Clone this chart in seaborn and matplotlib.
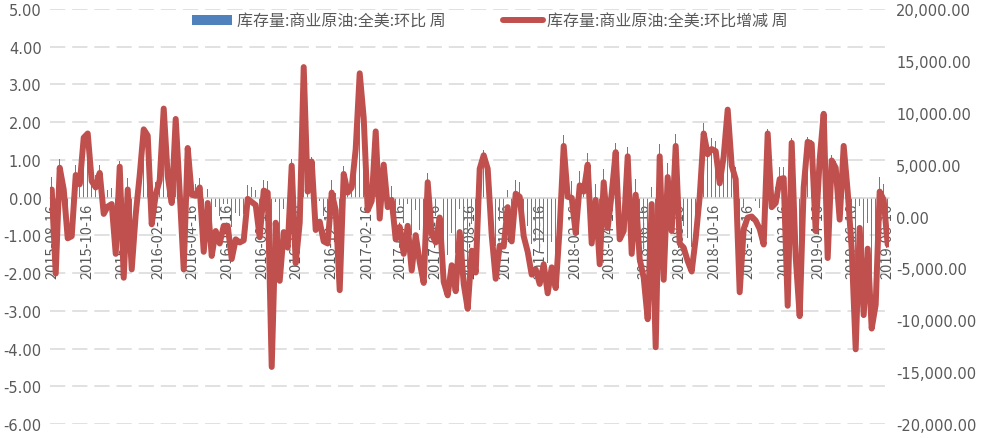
import numpy as np
import pandas as pd
import matplotlib
matplotlib.use("Agg")
import matplotlib.pyplot as plt
from matplotlib.patches import Patch
from matplotlib.lines import Line2D
import matplotlib.ticker as mticker
import seaborn as sns

# ---------------- data ----------------
start_date = "2015-08-14"   # first weekly observation

bar_label = "库存量:商业原油:全美:环比 周"
line_label = "库存量:商业原油:全美:环比增减 周"

# weekly change (thousand barrels) – right axis
weekly_change = [
    2600, -5500, 4700, 2600, -2100, -1900, 4000, 3100, 7600, 8000, 3400, 2800,
    4200, 250, 960, 1200, -3600, 4800, -5900, 2600, -5100, 200, 4000, 8400,
    7800, -750, 2100, 3500, 10400, 3900, 1300, 9400, 2300, -5100,
    6600, 2100, 2000, 2800, -3400, 1300, -3800, -1400, -2600, -900, -900, -4100,
    -2200, -2500, -2300, 1700, 1400, 1100, -2000, 2500, 2300, -14500,
    -600, -6200, -1500, -3000, 4900, -4500, -600, 14400, 2400, 5300, -1300, -500,
    -2400, -2600, 2300, 600, -7100, 4100, 2300, 2800, 6500, 13800,
    9500, 600, 1500, 8200, -200, 5000, 900, 1600, -2200, -1000, -3600, -900,
    -5200, -1800, -4400, -6400, 3300, -1700,
    -2500, -100, -6300, -7600, -4700, -7200, -1500, -6500, -8900, -3300, -5400,
    4600, 5900, 4600, -1800,
    -6000, -2800, -2900, 900, -2400, 2200, 1900, -1900, -3400, -5600, -5100,
    -6500, -4600, -7400,
    -4900, -6900, -1100, 6800, 1900, 1800, -1600, 3000, 2400, 5000,
    -2600, 1600, -4600, 3300, -1100, 2200, 6200, -2200, -1400, 5800,
    -3600, 2100, -4100, -5900, -9900, 1200, -12600, 5800, -6100, 3800,
    -1400, 6800, -2600, -3000, -4300, -5300, -2100, 1900,
    8000, 6000, 6500, 6300, 3200, 5800, 10300, 4900, 3600, -7300,
    -1200, -100, 0, -400, -1200, -2700, 8000, 900,
    1300, 3600, 3700, -8600, 7100, -3900, -9600, 2800, 7200, 7000,
    -1400, 5500, 9900, -4000, 5400, 4700, -300, 6800, 2400, -3100,
    -12800, -1100, -9500, -3100, -10800, -8500, 2400, 1600, -2700,
]

# weekly change (%) – left axis
weekly_pct = [
    0.56, -1.19, 1.02, 0.56, -0.46, -0.41, 0.87, 0.67, 1.65, 1.74, 0.74, 0.61,
    0.86, 0.05, 0.20, 0.25, -0.74, 0.98, -1.21, 0.53, -1.05, 0.04, 0.82, 1.72,
    1.52, -0.15, 0.41, 0.68, 2.03, 0.76, 0.25, 1.80, 0.44, -0.96,
    1.24, 0.39, 0.37, 0.52, -0.63, 0.24, -0.71, -0.26, -0.49, -0.17, -0.17, -0.77,
    -0.42, -0.48, -0.44, 0.33, 0.27, 0.21, -0.38, 0.48, 0.44, -2.75,
    -0.12, -1.22, -0.30, -0.60, 1.03, -0.95, -0.13, 3.02, 0.49, 1.08, -0.27, -0.10,
    -0.49, -0.54, 0.48, 0.12, -1.47, 0.85, 0.47, 0.57, 1.32, 2.72,
    1.83, 0.11, 0.29, 1.56, -0.04, 0.94, 0.17, 0.30, -0.41, -0.19, -0.68, -0.17,
    -0.99, -0.34, -0.85, -1.25, 0.65, -0.33,
    -0.49, -0.02, -1.24, -1.52, -0.95, -1.47, -0.31, -1.35, -1.88, -0.71, -1.17,
    1.00, 1.27, 0.98, -0.38,
    -1.29, -0.61, -0.63, 0.20, -0.53, 0.48, 0.41, -0.42, -0.75, -1.24, -1.15,
    -1.48, -1.06, -1.72,
    -1.17, -1.66, -0.27, 1.65, 0.46, 0.43, -0.38, 0.71, 0.57, 1.17,
    -0.60, 0.37, -1.07, 0.77, -0.26, 0.51, 1.44, -0.51, -0.32, 1.34,
    -0.83, 0.49, -0.94, -1.37, -2.33, 0.29, -3.03, 1.43, -1.48, 0.93,
    -0.34, 1.69, -0.64, -0.74, -1.07, -1.32, -0.53, 0.48,
    1.98, 1.46, 1.57, 1.50, 0.75, 1.35, 2.36, 1.10, 0.80, -1.63,
    -0.27, -0.02, 0.00, -0.09, -0.27, -0.61, 1.83, 0.20,
    0.29, 0.80, 0.82, -1.92, 1.58, -0.86, -2.18, 0.64, 1.62, 1.54,
    -0.31, 1.20, 2.13, -0.85, 1.13, 0.98, -0.06, 1.40, 0.49, -0.64,
    -2.66, -0.23, -2.02, -0.68, -2.40, -1.93, 0.55, 0.36, -0.62,
]

x_tick_labels = [
    "2015-08-16", "2015-10-16", "2015-12-16", "2016-02-16", "2016-04-16",
    "2016-06-16", "2016-08-16", "2016-10-16", "2016-12-16", "2017-02-16",
    "2017-04-16", "2017-06-16", "2017-08-16", "2017-10-16", "2017-12-16",
    "2018-02-16", "2018-04-16", "2018-06-16", "2018-08-16", "2018-10-16",
    "2018-12-16", "2019-02-16", "2019-04-16", "2019-06-16", "2019-08-16",
]

assert len(weekly_change) == len(weekly_pct)
n = len(weekly_change)
week = np.arange(n)
df = pd.DataFrame({"week": week, "pct": weekly_pct, "chg": weekly_change})

# tick positions (in weeks since the first observation)
t0 = pd.Timestamp(start_date)
tick_pos = [(pd.Timestamp(s) - t0).days / 7.0 for s in x_tick_labels]

# ---------------- style ----------------
sns.set_style("white")
plt.rcParams["font.family"] = ["Noto Sans CJK SC", "DejaVu Sans"]
plt.rcParams["axes.unicode_minus"] = False

BLUE = "#4F81BD"
RED = "#C0504D"
GRID = "#D9D9D9"
TXT = "#595959"

fig = plt.figure(figsize=(9.84, 4.39), dpi=100)
W, H = 984.0, 439.0
ax = fig.add_axes([50 / W, 1 - 425 / H, (889 - 50) / W, (425 - 10) / H])
ax2 = ax.twinx()

# bars (left axis)
sns.barplot(data=df, x="week", y="pct", ax=ax, color=BLUE, saturation=1,
            width=0.3, linewidth=0, order=list(week))
# line (right axis)
sns.lineplot(data=df, x="week", y="chg", ax=ax2, color=RED, linewidth=4.3,
             legend=False)
for ln in ax2.lines:
    ln.set_solid_joinstyle("round")
    ln.set_solid_capstyle("round")

xlo, xhi = -0.43, 209.33
ax.set_xlim(xlo, xhi)
ax2.set_xlim(xlo, xhi)

ax.set_ylim(-6, 5)
ax.set_yticks(np.arange(-6, 5.01, 1))
ax.yaxis.set_major_formatter(mticker.FormatStrFormatter("%.2f"))
ax2.set_ylim(-20000, 20000)
ax2.set_yticks(np.arange(-20000, 20001, 5000))
ax2.yaxis.set_major_formatter(mticker.FuncFormatter(lambda v, p: f"{v:,.2f}"))

ax.set_xticks(tick_pos)
ax.set_xticklabels(x_tick_labels)
ax.set_xlabel("")
ax.set_ylabel("")
ax2.set_xlabel("")
ax2.set_ylabel("")

# grid
ax.set_axisbelow(True)
ax.yaxis.grid(True, color=GRID, linewidth=1.1, linestyle=(0, (10, 4.5)))
ax.xaxis.grid(False)
ax2.grid(False)

# spines
for s in ["top", "left", "right"]:
    ax.spines[s].set_visible(False)
for s in ["top", "left", "right", "bottom"]:
    ax2.spines[s].set_visible(False)
ax.spines["bottom"].set_position(("data", 0))
ax.spines["bottom"].set_color(GRID)
ax.spines["bottom"].set_linewidth(1.1)

ax.tick_params(axis="x", length=0, pad=4, labelsize=10.5, colors=TXT,
               labelrotation=90)
ax.tick_params(axis="y", length=0, pad=6, labelsize=10.5, colors=TXT)
ax2.tick_params(axis="y", length=0, pad=5, labelsize=10.5, colors=TXT)
for lab in ax.get_yticklabels() + ax2.get_yticklabels():
    lab.set_fontfamily(["DejaVu Sans"])
for lab in ax.get_xticklabels():
    lab.set_rotation(90)
    lab.set_verticalalignment("top")
    lab.set_horizontalalignment("center")

# legend
handles = [Patch(facecolor=BLUE, edgecolor="none"),
           Line2D([0], [0], color=RED, linewidth=4.3)]
fig.legend(handles, [bar_label, line_label], loc="center",
           bbox_to_anchor=(490 / W, 1 - 22 / H), ncol=2, frameon=False,
           fontsize=11.5, handlelength=2.5, handleheight=0.6,
           handletextpad=0.3, columnspacing=3.6, labelcolor=TXT)

fig.savefig("out.png", dpi=100)
